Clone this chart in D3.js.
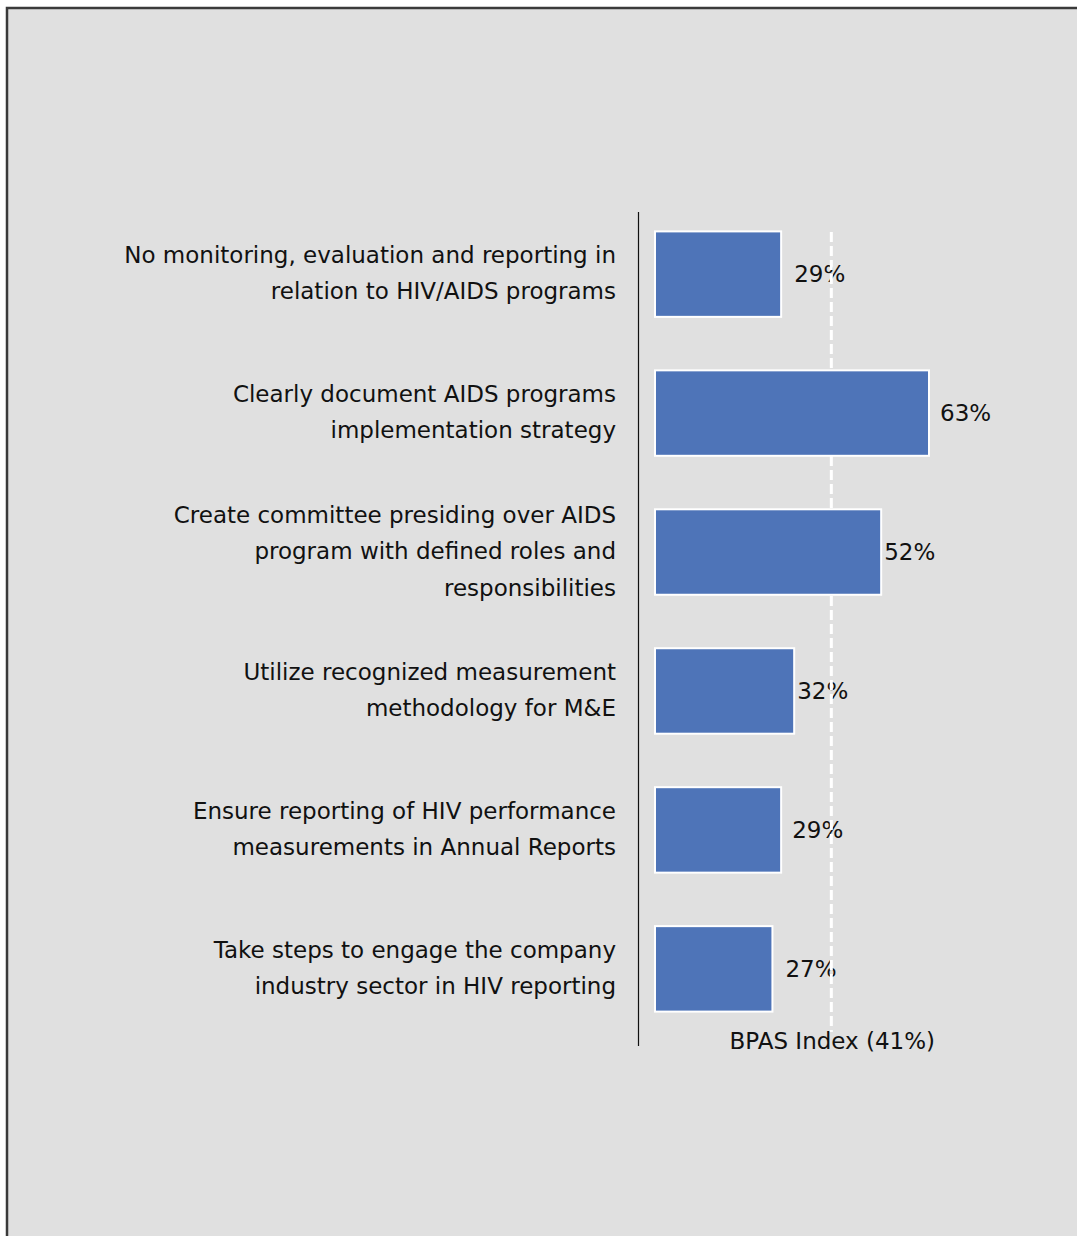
<!DOCTYPE html>
<html><head><meta charset="utf-8">
<script src="https://cdn.jsdelivr.net/npm/d3@7"></script>
<style>html,body{margin:0;padding:0;background:#fff;}svg{display:block;}</style>
</head><body>
<script>
const categories = [
  ["No monitoring, evaluation and reporting in", "relation to HIV/AIDS programs"],
  ["Clearly document AIDS programs", "implementation strategy"],
  ["Create committee presiding over AIDS", "program with defined roles and", "responsibilities"],
  ["Utilize recognized measurement", "methodology for M&E"],
  ["Ensure reporting of HIV performance", "measurements in Annual Reports"],
  ["Take steps to engage the company", "industry sector in HIV reporting"]
];
const values = [29, 63, 52, 32, 29, 27];
const benchmark = 41;
const benchmarkLabel = "BPAS Index (41%)";
const labelDx = [13, 11, 3, 3, 11, 13];

const W = 1077, H = 1236;
const svg = d3.select("body").append("svg").attr("width", W).attr("height", H);
const font = "'DejaVu Sans', sans-serif";

svg.append("rect").attr("x", 7).attr("y", 8).attr("width", W + 10).attr("height", H + 10)
  .attr("fill", "#e0e0e0").attr("stroke", "#3a3a3a").attr("stroke-width", 2.5);

const x = d3.scaleLinear().domain([0, 63]).range([655, 929]);
const y = d3.scaleBand().domain(d3.range(categories.length)).range([205, 1038]).paddingInner(0.385).paddingOuter(0.19);

// axis line
svg.append("line").attr("x1", 638.5).attr("x2", 638.5).attr("y1", 212).attr("y2", 1046)
  .attr("stroke", "#111").attr("stroke-width", 1.2);

// category labels
const lh = 36.5;
categories.forEach((lines, i) => {
  const cy = y(i) + y.bandwidth() / 2;
  const t = svg.append("text").attr("text-anchor", "end").attr("font-family", font)
    .attr("font-size", 23).attr("fill", "#111");
  lines.forEach((l, k) => {
    t.append("tspan").attr("x", 616).attr("y", cy + (k - (lines.length - 1) / 2) * lh + 7).text(l);
  });
});

// value labels
svg.selectAll(".val").data(values).join("text").attr("class", "val")
  .attr("x", (d, i) => x(d) + labelDx[i]).attr("y", (d, i) => y(i) + y.bandwidth() / 2 + 8)
  .attr("font-family", font).attr("font-size", 23).attr("fill", "#111")
  .text(d => d + "%");

// benchmark label
svg.append("text").attr("x", x(benchmark) - 1).attr("y", 1049).attr("text-anchor", "middle")
  .attr("font-family", font).attr("font-size", 23).attr("fill", "#111").text(benchmarkLabel);

// dashed benchmark line
svg.append("line").attr("x1", x(benchmark) - 2).attr("x2", x(benchmark) - 2).attr("y1", 232).attr("y2", 1032)
  .attr("stroke", "#fff").attr("stroke-width", 3).attr("stroke-dasharray", "10,4");

// bars
svg.selectAll(".bar").data(values).join("rect").attr("class", "bar")
  .attr("x", x(0)).attr("y", (d, i) => y(i)).attr("width", d => x(d) - x(0)).attr("height", y.bandwidth())
  .attr("fill", "#4e74b8").attr("stroke", "#fff").attr("stroke-width", 2);
</script>
</body></html>
